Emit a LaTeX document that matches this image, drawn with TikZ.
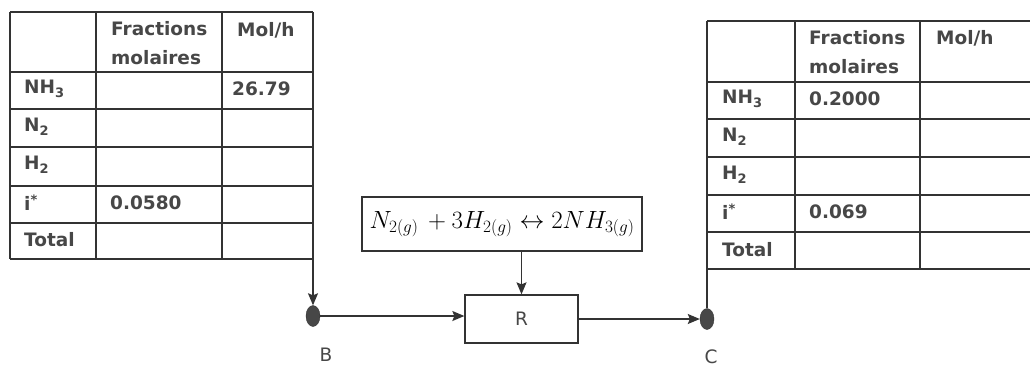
\documentclass[tikz,border=0pt]{standalone}
\usepackage[no-math]{fontspec}
\newfontfamily\hand{DejaVu Sans}
\usetikzlibrary{arrows.meta,shapes.geometric,calc}
\definecolor{ink}{HTML}{333333}
\tikzset{
  grid/.style={draw=ink,line width=1.3pt},
  cell/.style={anchor=west,inner sep=0pt,font=\hand\bfseries\fontsize{18.5}{21}\selectfont,text=ink!90},
  dot/.style={ellipse,fill=ink!90,draw=ink,minimum width=14pt,minimum height=21pt,inner sep=0pt},
  flow/.style={draw=ink,line width=1.3pt,-{Stealth[length=12pt,width=10pt,inset=2pt]}},
  line/.style={draw=ink,line width=1.3pt},
  boxR/.style={draw=ink,line width=1.3pt,minimum width=113pt,minimum height=48pt,inner sep=0pt},
  lbl/.style={font=\hand\fontsize{18.5}{21}\selectfont,text=ink!90,inner sep=0pt}
}
\begin{document}
\begin{tikzpicture}[x=1pt,y=-1pt]
\useasboundingbox (0,0) rectangle (1030,370);
% left table
\foreach \y in {12,72,109,147,186,223,259} \draw[grid] (10,\y) -- (313,\y);
\foreach \x in {10,96,222,313} \draw[grid] (\x,12) -- (\x,259);
\node[cell] (lf1) at (111,29) {Fractions};
\node[cell] (lf2) at (111,58) {molaires};
\node[cell] (lm) at (237,30) {Mol/h};
\node[cell] (l1) at (24,89) {NH\textsubscript{3}};
\node[cell] (lv1) at (232,89) {26.79};
\node[cell] (l2) at (24,127) {N\textsubscript{2}};
\node[cell] (l3) at (24,165) {H\textsubscript{2}};
\node[cell] (l4) at (24,203) {i\textsuperscript{*}};
\node[cell] (lv4) at (110,203) {0.0580};
\node[cell] (l5) at (24,240) {Total};
\coordinate (tabL) at (313,259);
% right table
\foreach \y in {21,82,119,157,195,232,269} \draw[grid] (707,\y) -- (1030,\y);
\foreach \x in {795,920} \draw[grid] (\x,21) -- (\x,269);
\draw[grid] (707,21) -- (707,269);
\node[cell] (rf1) at (809,38) {Fractions};
\node[cell] (rf2) at (809,67) {molaires};
\node[cell] (rm) at (936,38) {Mol/h};
\node[cell] (r1) at (722,99) {NH\textsubscript{3}};
\node[cell] (rv1) at (809,99) {0.2000};
\node[cell] (r2) at (722,137) {N\textsubscript{2}};
\node[cell] (r3) at (722,175) {H\textsubscript{2}};
\node[cell] (r4) at (722,212) {i\textsuperscript{*}};
\node[cell] (rv4) at (809,212) {0.069};
\node[cell] (r5) at (722,250) {Total};
\coordinate (tabR) at (707,269);
% reaction
\node[draw=ink,line width=1.3pt,minimum width=280pt,minimum height=54pt,inner sep=0pt] (rxn) at (502,224)
  {\fontsize{25}{30}\selectfont $N_{2(g)}\,+3H_{2(g)}\leftrightarrow 2NH_{3(g)}$};
\node[boxR] (R) at (521.5,319) {};
\node[lbl] at (R.center) {R};
\node[dot] (B) at (313,316) {};
\node[dot] (C) at (707,319) {};
\node[lbl] (Bl) at (326,355) {B};
\node[lbl] (Cl) at (711,357) {C};
% connectors
\draw[flow] (tabL) -- (B.north);
\draw[flow] (B.east) -- (B -| R.west);
\draw[flow] (R.east |- C) -- (C.west);
\draw[flow] (rxn.south -| R.north) -- (R.north);
\draw[line] (tabR) -- (C.north);
\end{tikzpicture}
\end{document}
